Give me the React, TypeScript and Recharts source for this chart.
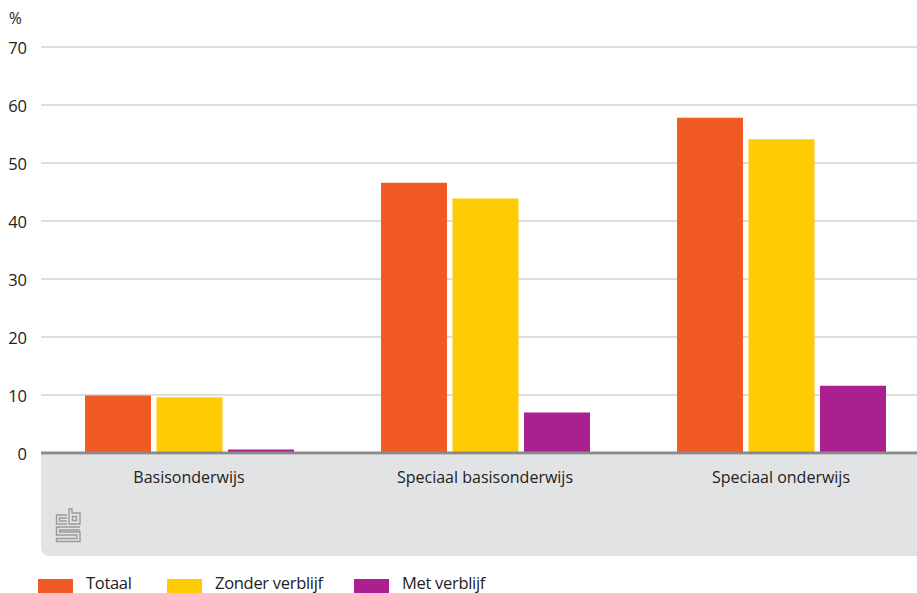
import React from 'react';
import { BarChart, Bar, XAxis, YAxis, CartesianGrid, Legend } from 'recharts';

const categories = ['Basisonderwijs', 'Speciaal basisonderwijs', 'Speciaal onderwijs'];
const totaal = [9.9, 46.6, 57.8];
const zonderVerblijf = [9.6, 43.9, 54.1];
const metVerblijf = [0.6, 7.0, 11.6];
const yTicks = [0, 10, 20, 30, 40, 50, 60, 70];
const seriesKeys = ['totaal', 'zonder', 'met'];
const seriesNames = ['Totaal', 'Zonder verblijf', 'Met verblijf'];
const seriesColors = ['#f15a24', '#ffcb05', '#aa208f'];
const unitLabel = '%';

const data = categories.map((c, i) => ({
  name: c,
  totaal: totaal[i],
  zonder: zonderVerblijf[i],
  met: metVerblijf[i],
}));

const FONT = '"Open Sans", "DejaVu Sans", sans-serif';

const YTick = (props: any) => {
  const { y, payload } = props;
  return (
    <text x={27} y={y} textAnchor="end" dominantBaseline="central" fontSize={16.5} fill="#222" fontFamily={FONT}>
      {payload.value}
    </text>
  );
};

const XTick = (props: any) => {
  const { x, y, payload } = props;
  return (
    <text x={x} y={y + 16} textAnchor="middle" dominantBaseline="central" fontSize={16} fill="#222" fontFamily={FONT}>
      {payload.value}
    </text>
  );
};

const legendLefts = [38, 167, 354];

const LegendContent = () => (
  <div style={{ position: 'relative', height: 21, width: 600 }}>
    {seriesNames.map((n, i) => (
      <div key={n} style={{ position: 'absolute', left: legendLefts[i], top: 0, display: 'flex', alignItems: 'flex-start' }}>
        <div style={{ width: 35, height: 14, marginTop: 7, background: seriesColors[i] }} />
        <span style={{ marginLeft: 13, marginTop: 1, fontSize: 16.5, lineHeight: '20px', color: '#222', fontFamily: FONT, whiteSpace: 'nowrap', letterSpacing: -0.3 }}>{n}</span>
      </div>
    ))}
  </div>
);

const Logo = () => (
  <svg width={27} height={35} viewBox="0 0 27 35" style={{ position: 'absolute', left: 55, top: 508 }}>
    <g fill="none" stroke="#9a9a9a" strokeWidth={1.4}>
      <path d="M12 7 H1.5 V16 H12" />
      <path d="M12 10 H4.5 V13 H12" />
      <path d="M14 1 V16 H25 V5 H17 V1 Z" />
      <path d="M17.5 8.5 H21.5 V12.5 H17.5 Z" />
      <path d="M25 19 H1.5 V27 H22 V30.5 H1.5 V33.5 H25 V24 H4.5 V22 H25" />
    </g>
  </svg>
);

export default function App() {
  return (
    <div style={{ position: 'fixed', left: 0, top: 0, width: 917, height: 593, overflow: 'hidden', background: '#fff', fontFamily: FONT }}>
      <div style={{ position: 'absolute', left: 41, top: 455, width: 900, height: 101, background: '#e2e3e5', borderBottomLeftRadius: 8 }} />
      <Logo />
      <div style={{ position: 'absolute', left: 9, top: 7, fontSize: 15.5, color: '#222', fontFamily: FONT }}>{unitLabel}</div>
      <BarChart
        width={940}
        height={593}
        data={data}
        margin={{ top: 47, right: 11, bottom: 110, left: 0 }}
        barCategoryGap={44}
        barGap={5.5}
      >
        <CartesianGrid horizontal vertical={false} stroke="#bdbdbd" strokeWidth={1.2} />
        <XAxis dataKey="name" height={30} tickLine={false} axisLine={{ stroke: '#8a8a8a', strokeWidth: 3 }} tick={<XTick />} interval={0} />
        <YAxis width={41} domain={[0, 70]} ticks={yTicks} tickLine={false} axisLine={false} tick={<YTick />} />
        {seriesKeys.map((k, i) => (
          <Bar key={k} dataKey={k} name={seriesNames[i]} fill={seriesColors[i]} isAnimationActive={false} />
        ))}
        <Legend layout="horizontal" verticalAlign="middle" content={<LegendContent />} wrapperStyle={{ top: 572, left: 0, width: 600 }} />
      </BarChart>
    </div>
  );
}
